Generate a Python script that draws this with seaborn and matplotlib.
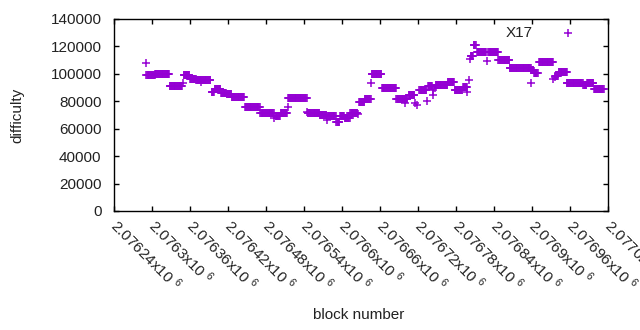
import numpy as np
import pandas as pd
import matplotlib
matplotlib.use("Agg")
import matplotlib.pyplot as plt
import seaborn as sns
from matplotlib.ticker import FixedLocator, FuncFormatter

# ---- data (block numbers are offsets from 2076000) ----
BASE = 2076000
seg_start = [291, 305, 328, 350, 360, 370, 394, 399, 409, 418, 426, 447, 471, 495,
             503, 515, 546, 565, 577, 591, 597, 604, 613, 627, 636, 647, 663, 686,
             705, 722, 736, 748, 758, 767, 778, 791, 803, 808, 813, 831, 847, 865,
             899, 903, 911, 937, 942, 956, 981, 987, 998]
seg_end = [304, 327, 347, 359, 369, 392, 398, 408, 417, 425, 445, 470, 492, 502,
           513, 544, 564, 575, 590, 596, 603, 612, 624, 635, 645, 662, 685, 703,
           714, 733, 742, 757, 766, 777, 790, 797, 807, 811, 827, 846, 864, 898,
           902, 909, 933, 941, 955, 980, 986, 997, 1013]
seg_value = [98900, 99800, 91500, 98900, 96500, 95300, 86500, 88700, 86000, 85300,
             82900, 76000, 71700, 69300, 71200, 82200, 71700, 70200, 69000, 64900,
             69500, 67800, 71200, 79700, 81400, 99700, 89500, 81600, 84400, 88200,
             91000, 92100, 91800, 94400, 88500, 90200, 113200, 120800, 115700,
             115700, 110100, 104000, 102600, 100400, 108900, 98400, 101600, 93600,
             91900, 93600, 88700]

single_block = [291, 349, 378, 493, 514, 545, 576, 626, 646, 700, 715, 719, 734,
                743, 744, 747, 798, 800, 802, 829, 898, 933, 936, 955]
single_value = [107700, 93000, 93800, 67500, 75500, 72200, 66400, 70700, 93100,
                78500, 78500, 77300, 80400, 84600, 88200, 90000, 87000, 95500,
                110800, 109600, 93100, 96000, 97900, 93100]

x_ticks = [2076240, 2076300, 2076360, 2076420, 2076480, 2076540, 2076600, 2076660,
           2076720, 2076780, 2076840, 2076900, 2076960, 2077020]
y_ticks = [0, 20000, 40000, 60000, 80000, 100000, 120000, 140000]

blocks, values = [], []
for s, e, v in zip(seg_start, seg_end, seg_value):
    for b in range(s, e + 1):
        blocks.append(BASE + b)
        values.append(v)
for b, v in zip(single_block, single_value):
    blocks.append(BASE + b)
    values.append(v)
df = pd.DataFrame({"block number": blocks, "difficulty": values})

# ---- styling ----
sns.set_theme(style="white")
plt.rcParams["font.family"] = ["Liberation Sans", "DejaVu Sans"]
plt.rcParams["mathtext.fontset"] = "custom"
plt.rcParams["mathtext.rm"] = "Liberation Sans"
plt.rcParams["mathtext.it"] = "Liberation Sans"

fig = plt.figure(figsize=(6.4, 3.3), dpi=100)
ax = fig.add_axes([114 / 640, 1 - 211 / 330, 494 / 640, 192 / 330])

sns.scatterplot(data=df, x="block number", y="difficulty", ax=ax, marker="+",
                color="#9400d3", s=30, linewidth=1.1, label="X17")

ax.set_xlim(x_ticks[0], x_ticks[-1])
ax.set_ylim(y_ticks[0], y_ticks[-1])
ax.xaxis.set_major_locator(FixedLocator(x_ticks))
ax.yaxis.set_major_locator(FixedLocator(y_ticks))
ax.xaxis.set_major_formatter(FuncFormatter(lambda v, p: f"{v / 1e6:g}x10 $^{{6}}$"))
ax.yaxis.set_major_formatter(FuncFormatter(lambda v, p: f"{int(v)}"))

for sp in ax.spines.values():
    sp.set_color("black")
    sp.set_linewidth(1.0)
ax.tick_params(axis="both", which="major", direction="in", length=3.5, width=1.0,
               color="black", labelsize=11, labelcolor="#222222",
               top=True, right=True, bottom=True, left=True)
ax.tick_params(axis="y", pad=9)
ax.tick_params(axis="x", pad=8)
for lab in ax.get_xticklabels():
    lab.set_rotation(-45)
    lab.set_ha("left")
    lab.set_va("center")
    lab.set_rotation_mode("anchor")

ax.set_xlabel("block number", fontsize=11, color="#222222")
ax.set_ylabel("difficulty", fontsize=11, color="#222222")
ax.xaxis.set_label_coords((359 - 114) / 494, -(308 - 211) / 192)
ax.yaxis.set_label_coords(-(114 - 24) / 494, 0.5)

leg = ax.legend(loc="upper right", bbox_to_anchor=((583 - 114) / 494, (211 - 26) / 192),
                frameon=False, markerfirst=False, fontsize=11, borderaxespad=0,
                borderpad=0, handlelength=2.0, handletextpad=1.3)
for t in leg.get_texts():
    t.set_color("#222222")

fig.savefig("out.png", dpi=100)
